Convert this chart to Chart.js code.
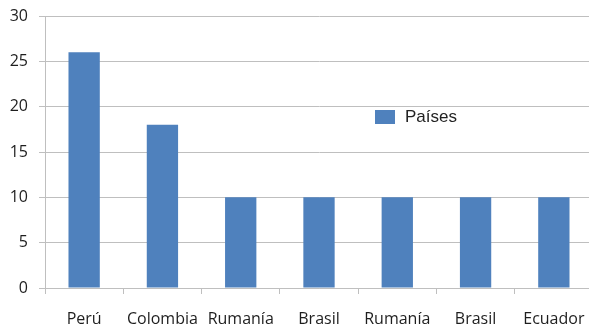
<!DOCTYPE html>
<html>
<head>
<meta charset="utf-8">
<script src="https://cdn.jsdelivr.net/npm/chart.js@4"></script>
<style>
  html, body { margin: 0; padding: 0; background: #fff; overflow: hidden; }
  #wrap { position: absolute; left: 0; top: 0; width: 593px; height: 327px; }
  #legend {
    position: absolute; left: 375px; top: 107px;
    font-family: "Liberation Sans", Arial, sans-serif; font-size: 17px; color: #222;
    display: flex; align-items: center; white-space: nowrap;
  }
  #legend .box { width: 20px; height: 14px; margin-right: 10px; }
</style>
</head>
<body>
<div id="wrap"><canvas id="chart"></canvas></div>
<div id="legend"><span class="box"></span><span id="legendText"></span></div>
<script>
const paises = ["Perú", "Colombia", "Rumanía", "Brasil", "Rumanía", "Brasil", "Ecuador"];
const valores = [26, 18, 10, 10, 10, 10, 10];
const serieNombre = "Países";
const yTicks = [0, 5, 10, 15, 20, 25, 30];

const azul = "#4f81bd";
const gris = "#bfbfbf";
const fuente = { family: "'Open Sans', sans-serif", size: 16 };

// leyenda en html, dentro del grafico
document.querySelector("#legend .box").style.background = azul;
document.getElementById("legendText").textContent = serieNombre;

const ctx = document.getElementById("chart").getContext("2d");
new Chart(ctx, {
  type: "bar",
  data: {
    labels: paises,
    datasets: [
      {
        label: serieNombre,
        data: valores,
        backgroundColor: azul,
        categoryPercentage: 1,
        barPercentage: 0.4,
      },
    ],
  },
  options: {
    responsive: true,
    maintainAspectRatio: false,
    animation: false,
    layout: { padding: { top: 16, left: 0, right: 0, bottom: 0 } },
    plugins: {
      legend: { display: false },
      tooltip: { enabled: false },
    },
    scales: {
      x: {
        grid: {
          drawOnChartArea: false,
          drawTicks: true,
          tickLength: 6,
          color: gris,
        },
        border: { color: gris },
        ticks: { color: "#1e1e1e", font: fuente, padding: 16, maxRotation: 0 },
        afterFit: (scale) => {
          scale.height = 39;
          scale.paddingLeft = 0;
          scale.paddingRight = 0;
        },
      },
      y: {
        min: 0,
        max: 30,
        afterBuildTicks: (scale) => {
          scale.ticks = yTicks.map((v) => ({ value: v }));
        },
        grid: { color: gris, tickLength: 6 },
        border: { color: gris },
        ticks: { color: "#1e1e1e", font: fuente, padding: 11 },
        afterFit: (scale) => {
          scale.width = 45;
          scale.paddingTop = 0;
          scale.paddingBottom = 0;
        },
      },
    },
  },
});
</script>
</body>
</html>
